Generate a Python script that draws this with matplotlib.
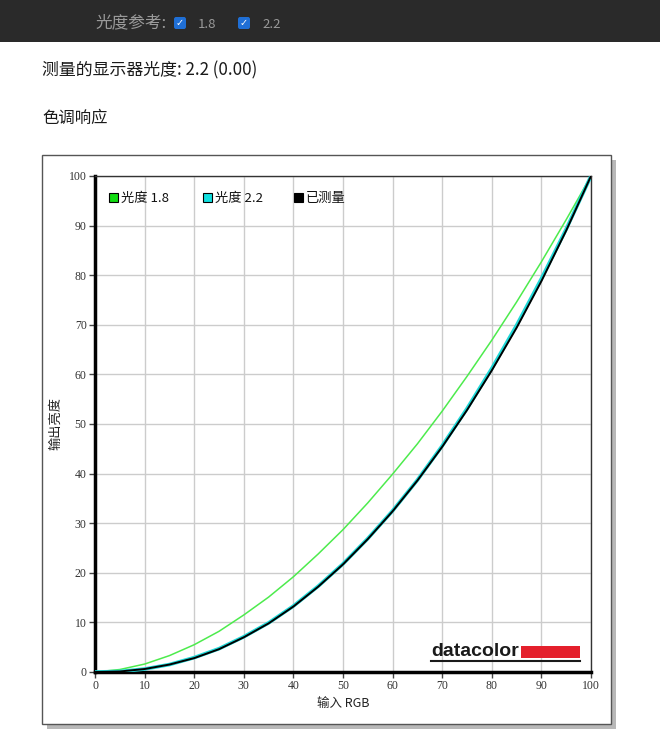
import matplotlib.pyplot as plt
from matplotlib.patches import Rectangle, FancyBboxPatch
from matplotlib.lines import Line2D

# 数据
rgb_in = [0, 5, 10, 15, 20, 25, 30, 35, 40, 45, 50,
          55, 60, 65, 70, 75, 80, 85, 90, 95, 100]
gamma_18 = [0, 0.5, 1.6, 3.3, 5.5, 8.2, 11.5, 15.1, 19.2, 23.8, 28.7,
            34.1, 39.9, 46.0, 52.6, 59.6, 66.9, 74.6, 82.7, 91.2, 100]
gamma_22 = [0, 0.1, 0.6, 1.5, 2.9, 4.7, 7.1, 9.9, 13.3, 17.3, 21.8,
            26.9, 32.5, 38.7, 45.6, 53.1, 61.2, 69.9, 79.3, 89.3, 100]
measured = [0, 0.1, 0.6, 1.5, 2.8, 4.6, 7.0, 9.8, 13.2, 17.2, 21.7,
            26.8, 32.4, 38.6, 45.4, 52.8, 60.8, 69.4, 78.8, 89.0, 100]

x_ticks = [0, 10, 20, 30, 40, 50, 60, 70, 80, 90, 100]
y_ticks = [0, 10, 20, 30, 40, 50, 60, 70, 80, 90, 100]

legend_labels = ["光度 1.8", "光度 2.2", "已测量"]
legend_colors = ["#11dd11", "#11e0e0", "#000000"]

W, H = 660, 742
CJK = ["Noto Sans CJK SC", "DejaVu Sans"]
plt.rcParams["font.family"] = CJK


def fx(px):
    return px / W


def fy(py):
    return 1 - py / H


fig = plt.figure(figsize=(W / 100, H / 100), dpi=100)

# 顶部深色条
fig.patches.append(Rectangle((0, fy(42)), 1, 42 / H, transform=fig.transFigure,
                             facecolor="#2a2a2a", edgecolor="none", zorder=-5))
fig.text(fx(95), fy(23), "光度参考:", color="#9a9a9a", fontsize=12, va="center")
for bx, label in [(174, "1.8"), (238, "2.2")]:
    fig.patches.append(FancyBboxPatch((fx(bx), fy(29)), 12 / W, 12 / H,
                                      boxstyle="round,pad=0,rounding_size=0.003",
                                      transform=fig.transFigure,
                                      facecolor="#1f6fd6", edgecolor="none"))
    fig.text(fx(bx + 6), fy(23), "✓", color="white", fontsize=7,
             ha="center", va="center", family="DejaVu Sans")
    fig.text(fx(bx + 24), fy(24), label, color="#9a9a9a", fontsize=9.5, va="center")

fig.text(fx(42), fy(70), "测量的显示器光度: 2.2 (0.00)", fontsize=12.2,
         color="#1a1a1a", va="center")
fig.text(fx(42), fy(118), "色调响应", fontsize=11.8, color="#1a1a1a", va="center")

# 外框和阴影
fig.patches.append(Rectangle((fx(47), fy(729)), 569 / W, 569 / H, transform=fig.transFigure,
                             facecolor="#b8b8b8", edgecolor="none", zorder=-4))
fig.patches.append(Rectangle((fx(42), fy(724)), 569 / W, 569 / H, transform=fig.transFigure,
                             facecolor="white", edgecolor="#555555", linewidth=1, zorder=-3))

ax = fig.add_axes([fx(95), fy(672), 496 / W, 496 / H])
ax.set_zorder(1)
ax.plot(rgb_in, gamma_18, color="#4deb4d", linewidth=1.1, zorder=3)
ax.plot(rgb_in, gamma_22, color="#20d8d8", linewidth=2.6, zorder=3)
ax.plot(rgb_in, measured, color="#000000", linewidth=1.4, zorder=4)

ax.set_xlim(0, 100)
ax.set_ylim(0, 100)
ax.set_xticks(x_ticks)
ax.set_yticks(y_ticks)
ax.grid(True, color="#cccccc", linewidth=1)
ax.set_axisbelow(True)
for side in ["left", "bottom"]:
    ax.spines[side].set_linewidth(2.5)
    ax.spines[side].set_color("black")
for side in ["top", "right"]:
    ax.spines[side].set_linewidth(1)
    ax.spines[side].set_color("#333333")
ax.tick_params(direction="out", length=4, width=1, color="#444444",
               labelsize=8.5, labelcolor="#333333", pad=2)
for lab in ax.get_xticklabels() + ax.get_yticklabels():
    lab.set_family(["Liberation Serif", "DejaVu Serif"])

ax.set_xlabel("输入 RGB", fontsize=9, color="#222222", labelpad=3)
ax.set_ylabel("输出亮度", fontsize=9.5, color="#222222")
ax.yaxis.set_label_coords(-0.066, 0.5)

# 图例
leg_x = [113, 207, 298]
for px, lab, col in zip(leg_x, legend_labels, legend_colors):
    fig.patches.append(Rectangle((fx(px - 4), fy(202)), 9 / W, 9 / H, transform=fig.transFigure,
                                 facecolor=col, edgecolor="black", linewidth=0.8, zorder=5))
    fig.text(fx(px + 8), fy(198), lab, fontsize=9.5, color="#111111", va="center", zorder=5)

# datacolor 标志
fig.text(fx(431), fy(651), "datacolor", fontsize=14, fontweight="bold",
         color="#1a1a1a", va="center", family="Liberation Sans", zorder=5)
fig.patches.append(Rectangle((fx(521), fy(658)), 59 / W, 12 / H, transform=fig.transFigure,
                             facecolor="#e4202c", edgecolor="none", zorder=5))
fig.lines.append(Line2D([fx(431), fx(580)], [fy(661), fy(661)], transform=fig.transFigure,
                        color="#1a1a1a", linewidth=1.5, zorder=5))

fig.savefig("out.png", dpi=100)
